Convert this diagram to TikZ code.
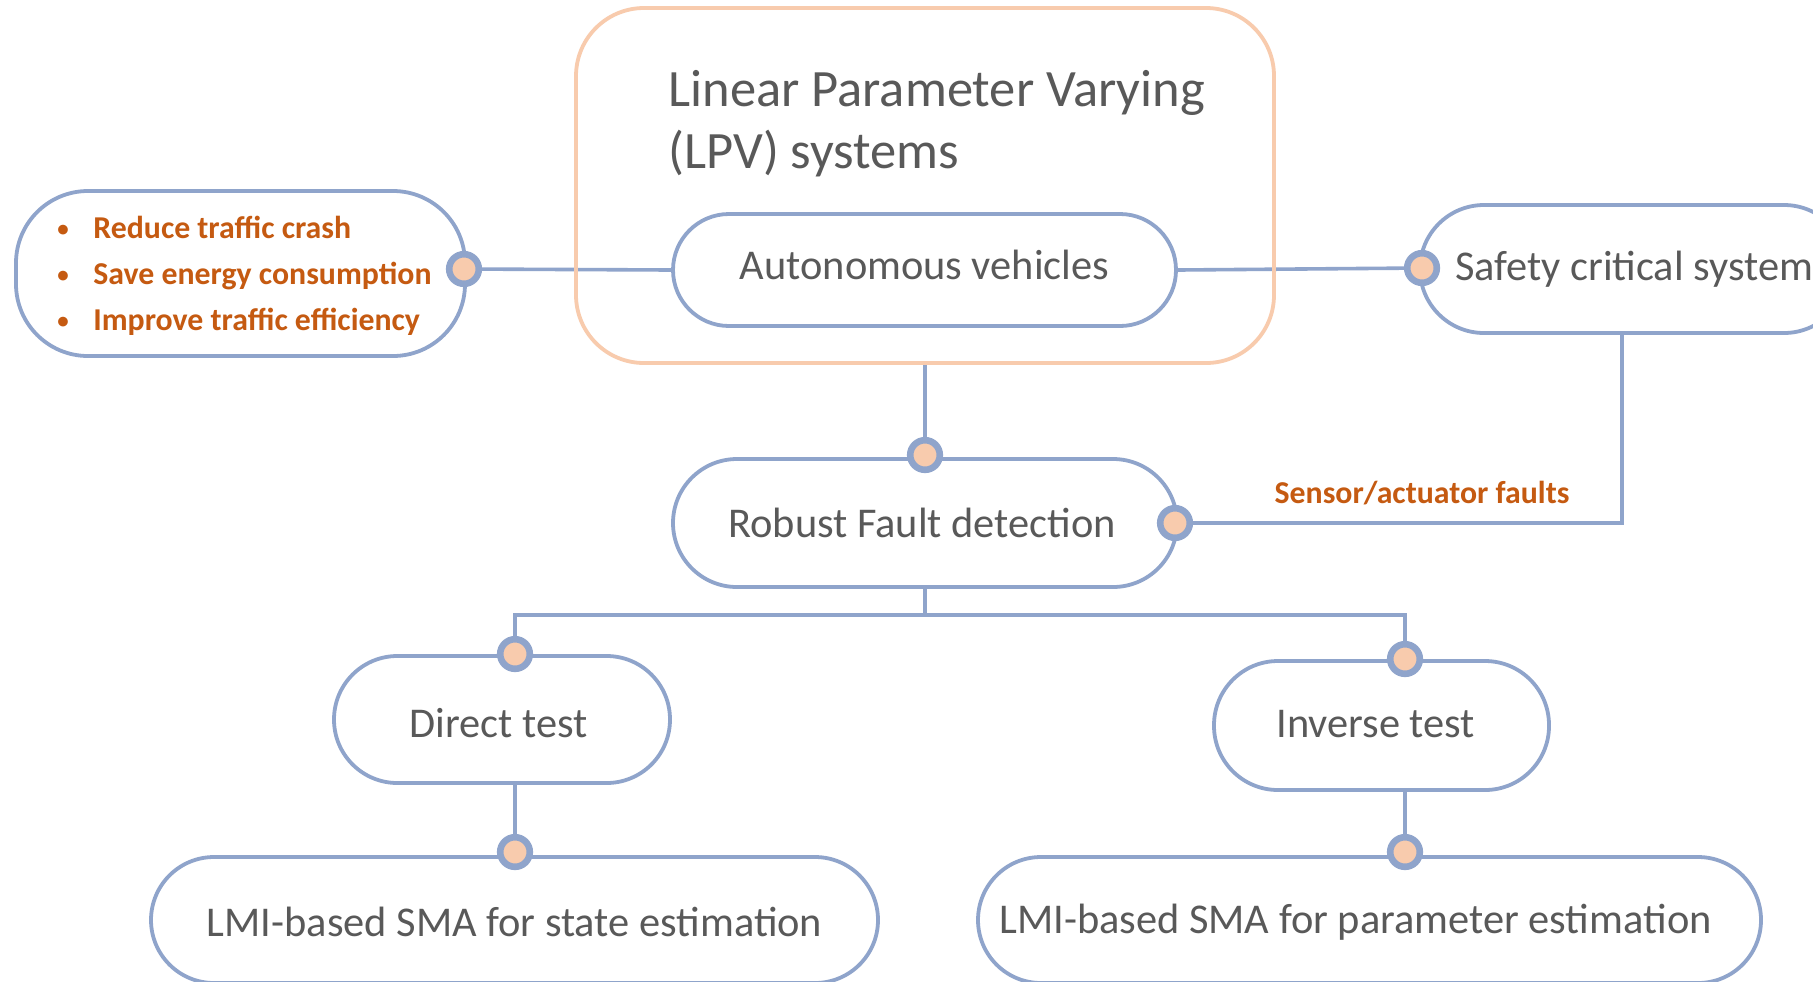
\documentclass[tikz,border=0pt]{standalone}
\usepackage{fontspec}
\usepackage{graphicx}
\setmainfont{Carlito}
\usetikzlibrary{calc}
\pgfdeclarelayer{bg}
\pgfsetlayers{bg,main}
\definecolor{lineblue}{HTML}{8FA4CB}
\definecolor{peach}{HTML}{F8CBAD}
\definecolor{txtgrey}{HTML}{595959}
\definecolor{rust}{HTML}{C55A11}
\newcommand{\shiftxt}[3]{\hspace*{#1}\raisebox{#2}[\height][\depth]{#3}}
\newcommand{\blt}{\makebox[18pt][l]{\raisebox{0.6pt}{\scalebox{0.72}{\textbullet}}}}
\begin{document}
\begin{tikzpicture}[x=0.5pt,y=-0.5pt,
  pill/.style={draw=lineblue, line width=1.9pt, rounded corners=#1, inner sep=0pt, text=txtgrey, font=\fontsize{21.2}{25}\selectfont},
  pill/.default=30pt,
  conn/.style={draw=lineblue, line width=1.8pt},
  dotc/.style={circle, draw=lineblue, fill=peach, line width=3.3pt, minimum size=14.8pt, inner sep=0pt},
  orangetxt/.style={text=rust, font=\bfseries\fontsize{15.9}{23}\selectfont, inner sep=0pt}]
\useasboundingbox (0,0) rectangle (1813,981);
\begin{pgfonlayer}{bg}
\fill[white] (0,0) rectangle (1813,981);
\end{pgfonlayer}

% boxes
\node[pill=34pt, draw=peach, minimum width=349pt, minimum height=177.5pt] (lpv) at (925,185.5) {};
\node[anchor=west, align=left, inner sep=0pt, text=txtgrey, font=\fontsize{26.25}{31}\selectfont] (lpvt) at (668,123.5) {Linear Parameter Varying\\(LPV) systems};
\node[pill=28pt, minimum width=251.5pt, minimum height=56pt] (auto) at (924.5,270) {\shiftxt{0pt}{2.3pt}{Autonomous vehicles}};
\node[pill=36pt, minimum width=224.5pt, minimum height=82.5pt] (benef) at (240.5,273.5) {};
\node[orangetxt, anchor=west, align=left] (blist) at (57,275.5) {\blt Reduce traffic crash\\\blt Save energy consumption\\\blt Improve traffic efficiency};
\node[pill=32pt, minimum width=214pt, minimum height=64pt] (safety) at (1634,269) {Safety critical system};
\node[pill=32pt, minimum width=252pt, minimum height=64pt] (robust) at (925,523) {\shiftxt{0pt}{0pt}{Robust Fault detection}\hspace*{3pt}};
\node[pill=31.7pt, minimum width=168pt, minimum height=63.5pt] (direct) at (502,719.5) {\shiftxt{0pt}{-1.7pt}{Direct test}\hspace*{3.4pt}};
\node[pill=32pt, minimum width=167.5pt, minimum height=64.5pt] (inverse) at (1381.5,725.5) {\shiftxt{0pt}{0.6pt}{Inverse test}\hspace*{5.8pt}};
\node[pill=31.5pt, minimum width=363.5pt, minimum height=63pt] (lmis) at (514.5,920) {\shiftxt{0pt}{-1pt}{LMI-based SMA for state estimation}};
\node[pill=31.5pt, minimum width=391.5pt, minimum height=63pt] (lmip) at (1369.5,920) {\shiftxt{0pt}{-1pt}{LMI-based SMA for parameter estimation}\hspace*{14pt}};
\node[orangetxt] (sal) at (1422,493) {Sensor/actuator faults};

% dots
\node[dotc] (dl) at (464,269) {};
\node[dotc] (dr) at (925,455) {};
\node[dotc] (ds) at (1422,268) {};
\node[dotc] (df) at (1175,523) {};
\node[dotc] (dd) at (515,654) {};
\node[dotc] (di) at (1405,659) {};
\node[dotc] (dls) at (515,852) {};
\node[dotc] (dlp) at (1405,852) {};

\coordinate (sb) at (1622,333);
\coordinate (jn) at (925,615);

% connectors
\begin{pgfonlayer}{bg}
\draw[conn] (dl.center) -- (auto.west);
\draw[conn] (auto.east) -- (ds.center);
\draw[conn] (lpv.south) -- (dr.center);
\draw[conn] (sb) |- (df.center);
\draw[conn] (robust.south) -- (jn);
\draw[conn] (jn) -| (dd.center);
\draw[conn] (jn) -| (di.center);
\draw[conn] (direct.south -| dd.center) -- (dls.center);
\draw[conn] (inverse.south -| di.center) -- (dlp.center);
\end{pgfonlayer}
\end{tikzpicture}
\end{document}
